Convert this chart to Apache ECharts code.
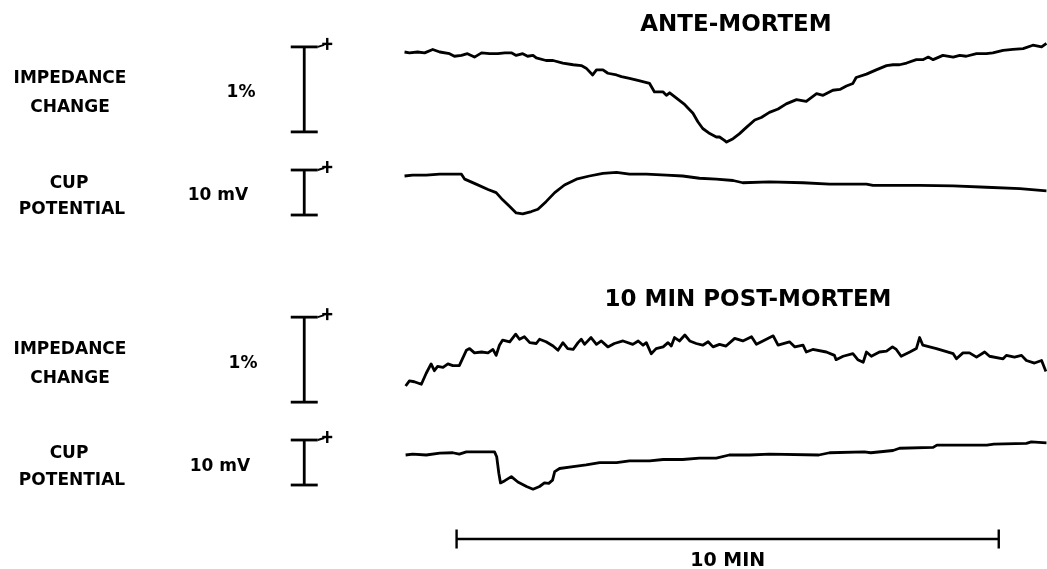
<!DOCTYPE html>
<html>
<head>
<meta charset="utf-8">
<title>Impedance change and cup potential, ante- and post-mortem</title>
<script src="https://cdn.jsdelivr.net/npm/echarts@6/dist/echarts.min.js"></script>
<style>
  html, body { margin: 0; padding: 0; background: #fff; }
  #chart { width: 1047px; height: 569px; }
</style>
</head>
<body>
<div id="chart"></div>
<script>
// ---- Recorded traces: [time (min), value] ----
// Impedance change in %, cup potential in mV, both relative to the start of the trace.
const anteImpedance = [
  [0.00, 0.00], [0.09, -0.01], [0.24, 0.00], [0.37, -0.01], [0.52, 0.03], [0.65, 0.00],
  [0.83, -0.02], [0.92, -0.05], [1.05, -0.04], [1.16, -0.02], [1.29, -0.06], [1.42, -0.01],
  [1.57, -0.02], [1.72, -0.02], [1.85, -0.01], [1.97, -0.01], [2.06, -0.04], [2.18, -0.02],
  [2.27, -0.05], [2.37, -0.04], [2.43, -0.07], [2.61, -0.10], [2.74, -0.10], [2.92, -0.13],
  [3.11, -0.15], [3.26, -0.16], [3.35, -0.19], [3.47, -0.27], [3.54, -0.21], [3.66, -0.21],
  [3.75, -0.25], [3.91, -0.27], [4.00, -0.29], [4.15, -0.31], [4.34, -0.34], [4.52, -0.37],
  [4.61, -0.47], [4.77, -0.47], [4.83, -0.51], [4.89, -0.48], [5.01, -0.54], [5.17, -0.62],
  [5.32, -0.72], [5.41, -0.82], [5.50, -0.90], [5.63, -0.96], [5.75, -1.00], [5.81, -1.00],
  [5.90, -1.04], [5.94, -1.06], [6.06, -1.02], [6.18, -0.96], [6.30, -0.89], [6.46, -0.80],
  [6.58, -0.77], [6.73, -0.71], [6.89, -0.67], [7.04, -0.61], [7.23, -0.56], [7.41, -0.58],
  [7.60, -0.49], [7.72, -0.51], [7.90, -0.45], [8.03, -0.44], [8.15, -0.40], [8.27, -0.37],
  [8.33, -0.30], [8.52, -0.26], [8.70, -0.21], [8.89, -0.16], [9.01, -0.15], [9.13, -0.15],
  [9.26, -0.13], [9.44, -0.09], [9.56, -0.09], [9.66, -0.06], [9.75, -0.09], [9.93, -0.04],
  [10.12, -0.06], [10.24, -0.04], [10.36, -0.05], [10.55, -0.02], [10.73, -0.02], [10.85, -0.01],
  [11.04, 0.02], [11.22, 0.03], [11.41, 0.04], [11.59, 0.08], [11.75, 0.06], [11.84, 0.10]
];

const anteCupPotential = [
  [0.00, 0.0], [0.15, 0.2], [0.40, 0.2], [0.65, 0.4], [0.89, 0.4], [1.05, 0.4],
  [1.11, -0.7], [1.32, -1.8], [1.54, -3.0], [1.69, -3.7], [1.81, -5.3], [1.94, -6.8],
  [2.06, -8.2], [2.18, -8.4], [2.34, -7.9], [2.46, -7.4], [2.61, -5.7], [2.77, -3.7],
  [2.95, -2.0], [3.17, -0.7], [3.41, 0.0], [3.66, 0.6], [3.91, 0.8], [4.15, 0.4],
  [4.46, 0.4], [4.83, 0.2], [5.13, 0.0], [5.44, -0.5], [5.75, -0.7], [6.06, -1.0],
  [6.24, -1.5], [6.73, -1.3], [7.35, -1.5], [7.84, -1.8], [8.52, -1.8], [8.64, -2.1],
  [9.50, -2.1], [10.12, -2.2], [10.73, -2.5], [11.35, -2.8], [11.84, -3.3]
];

const postImpedance = [
  [0.02, 0.00], [0.09, 0.06], [0.18, 0.05], [0.31, 0.02], [0.40, 0.15], [0.49, 0.26],
  [0.55, 0.18], [0.61, 0.23], [0.71, 0.22], [0.80, 0.26], [0.89, 0.24], [1.01, 0.24],
  [1.14, 0.42], [1.20, 0.44], [1.29, 0.39], [1.42, 0.40], [1.54, 0.39], [1.63, 0.43],
  [1.69, 0.36], [1.75, 0.48], [1.81, 0.54], [1.94, 0.52], [2.05, 0.61], [2.12, 0.55],
  [2.21, 0.58], [2.31, 0.51], [2.43, 0.50], [2.49, 0.55], [2.61, 0.52], [2.74, 0.47],
  [2.83, 0.42], [2.92, 0.51], [3.01, 0.44], [3.11, 0.43], [3.20, 0.51], [3.26, 0.55],
  [3.32, 0.49], [3.44, 0.57], [3.54, 0.49], [3.63, 0.53], [3.75, 0.46], [3.87, 0.50],
  [4.03, 0.53], [4.21, 0.49], [4.31, 0.53], [4.40, 0.48], [4.46, 0.51], [4.55, 0.38],
  [4.64, 0.44], [4.77, 0.46], [4.86, 0.51], [4.92, 0.47], [4.98, 0.57], [5.07, 0.53],
  [5.17, 0.60], [5.26, 0.53], [5.38, 0.50], [5.50, 0.48], [5.60, 0.52], [5.69, 0.46],
  [5.81, 0.49], [5.93, 0.47], [6.09, 0.56], [6.24, 0.53], [6.40, 0.58], [6.49, 0.49],
  [6.61, 0.53], [6.80, 0.59], [6.89, 0.48], [7.10, 0.52], [7.20, 0.46], [7.35, 0.48],
  [7.41, 0.40], [7.53, 0.43], [7.78, 0.40], [7.93, 0.36], [7.96, 0.31], [8.09, 0.35],
  [8.27, 0.38], [8.36, 0.31], [8.46, 0.28], [8.52, 0.40], [8.61, 0.35], [8.76, 0.40],
  [8.89, 0.41], [9.00, 0.46], [9.07, 0.43], [9.16, 0.35], [9.32, 0.40], [9.44, 0.44],
  [9.50, 0.57], [9.56, 0.48], [9.81, 0.44], [10.12, 0.38], [10.18, 0.32], [10.30, 0.39],
  [10.42, 0.39], [10.55, 0.34], [10.70, 0.40], [10.79, 0.35], [11.04, 0.32], [11.10, 0.36],
  [11.25, 0.34], [11.38, 0.36], [11.47, 0.30], [11.62, 0.27], [11.75, 0.30], [11.83, 0.17]
];

const postCupPotential = [
  [0.02, 0.0], [0.15, 0.2], [0.40, 0.0], [0.65, 0.4], [0.89, 0.5], [1.01, 0.2],
  [1.14, 0.7], [1.38, 0.7], [1.66, 0.7], [1.70, -0.4], [1.74, -4.1], [1.77, -6.2],
  [1.85, -5.7], [1.97, -4.8], [2.09, -6.0], [2.25, -7.0], [2.37, -7.6], [2.49, -7.0],
  [2.58, -6.2], [2.66, -6.3], [2.73, -5.6], [2.77, -3.7], [2.86, -3.0], [3.11, -2.6],
  [3.35, -2.2], [3.60, -1.7], [3.91, -1.7], [4.15, -1.3], [4.52, -1.3], [4.77, -1.0],
  [5.13, -1.0], [5.44, -0.7], [5.75, -0.7], [5.99, 0.0], [6.37, 0.0], [6.73, 0.2],
  [7.64, 0.0], [7.84, 0.5], [8.48, 0.7], [8.60, 0.5], [9.01, 1.0], [9.13, 1.5],
  [9.75, 1.7], [9.82, 2.2], [10.74, 2.2], [10.87, 2.4], [11.47, 2.6], [11.56, 2.9],
  [11.84, 2.7]
];

// ---- Calibration bars: [time (min), low, high] — 1 % and 10 mV ----
const anteImpCal = [[-1.85, -0.94, 0.06]];
const anteCupCal = [[-1.85, -8.67, 1.33]];
const postImpCal = [[-1.85, -0.19, 0.81]];
const postCupCal = [[-1.85, -6.67, 3.33]];

// ---- Time bar: [start, end] in minutes ----
const timeBar = [[0.96, 10.96]];
const timeBarLabel = '10 MIN';

// ---- Text ----
const titles = ['ANTE-MORTEM', '10 MIN POST-MORTEM'];
const traceNames = [['IMPEDANCE', 'CHANGE'], ['CUP', 'POTENTIAL']];
const calLabels = ['1%', '10 mV'];

// ---- Layout ----
const X_MIN = -2.5, X_MAX = 11.85, GRID_LEFT = 269;
const FONT = '"DejaVu Sans", "Liberation Sans", Arial, sans-serif';
const INK = '#000';

// A band whose value zero sits at zeroPx with pxPerUnit pixels per unit.
function band(zeroPx, pxPerUnit, min, max) {
  return {
    grid: { left: GRID_LEFT, right: 0, top: zeroPx - max * pxPerUnit, height: (max - min) * pxPerUnit },
    min: min, max: max
  };
}

const bands = [
  band(52, 85, -1.3, 0.2),    // ante-mortem impedance (%)
  band(176, 4.5, -10, 3),     // ante-mortem cup potential (mV)
  band(386, 85, -0.3, 0.85),  // post-mortem impedance (%)
  band(455, 4.5, -10, 4),     // post-mortem cup potential (mV)
  band(539, 20, -0.5, 0.5)    // time bar
];

const traces = [anteImpedance, anteCupPotential, postImpedance, postCupPotential];
const calBars = [anteImpCal, anteCupCal, postImpCal, postCupCal];

const LW = 2.8;

function calRenderItem(params, api) {
  const x = api.value(0);
  const lo = api.coord([x, api.value(1)]);
  const hi = api.coord([x, api.value(2)]);
  const half = 13.5;
  const s = { stroke: INK, lineWidth: LW, lineCap: 'butt' };
  const px = hi[0] + 23, py = hi[1] - 3;
  return {
    type: 'group',
    children: [
      { type: 'line', shape: { x1: lo[0], y1: lo[1], x2: hi[0], y2: hi[1] }, style: s },
      { type: 'line', shape: { x1: lo[0] - half, y1: lo[1], x2: lo[0] + half, y2: lo[1] }, style: s },
      { type: 'line', shape: { x1: hi[0] - half, y1: hi[1], x2: hi[0] + half, y2: hi[1] }, style: s },
      { type: 'line', shape: { x1: hi[0] + half, y1: hi[1], x2: px - 3, y2: py + 1 }, style: { stroke: INK, lineWidth: 2 } },
      { type: 'line', shape: { x1: px - 5, y1: py, x2: px + 5, y2: py }, style: { stroke: INK, lineWidth: 2.4 } },
      { type: 'line', shape: { x1: px, y1: py - 6, x2: px, y2: py + 6 }, style: { stroke: INK, lineWidth: 2.4 } }
    ]
  };
}

function timeBarRenderItem(params, api) {
  const a = api.coord([api.value(0), 0]);
  const b = api.coord([api.value(1), 0]);
  const s = { stroke: INK, lineWidth: 2.4 };
  return {
    type: 'group',
    children: [
      { type: 'line', shape: { x1: a[0], y1: a[1], x2: b[0], y2: b[1] }, style: s },
      { type: 'line', shape: { x1: a[0], y1: a[1] - 9.5, x2: a[0], y2: a[1] + 9.5 }, style: s },
      { type: 'line', shape: { x1: b[0], y1: b[1] - 9.5, x2: b[0], y2: b[1] + 9.5 }, style: s },
      { type: 'text', style: {
          text: timeBarLabel, x: (a[0] + b[0]) / 2, y: a[1] + 22,
          fill: INK, font: 'bold 19px ' + FONT,
          textAlign: 'center', textVerticalAlign: 'middle', align: 'center', verticalAlign: 'middle'
      } }
    ]
  };
}

const grids = bands.map(b => b.grid);
const xAxes = bands.map((b, i) => ({ type: 'value', gridIndex: i, min: X_MIN, max: X_MAX, show: false }));
const yAxes = bands.map((b, i) => ({ type: 'value', gridIndex: i, min: b.min, max: b.max, show: false }));

const series = [];
traces.forEach((data, i) => {
  series.push({
    type: 'line', xAxisIndex: i, yAxisIndex: i, data: data,
    showSymbol: false, symbol: 'none', smooth: false, clip: false,
    lineStyle: { color: INK, width: LW, join: 'round' },
    silent: true, animation: false
  });
  series.push({
    type: 'custom', xAxisIndex: i, yAxisIndex: i, data: calBars[i],
    renderItem: calRenderItem, clip: false, silent: true, animation: false
  });
});
series.push({
  type: 'custom', xAxisIndex: 4, yAxisIndex: 4, data: timeBar,
  renderItem: timeBarRenderItem, clip: false, silent: true, animation: false
});

function txt(text, x, y, size) {
  return {
    type: 'text', silent: true,
    style: {
      text: text, x: x, y: y, fill: INK, font: 'bold ' + size + 'px ' + FONT,
      textAlign: 'center', textVerticalAlign: 'middle', align: 'center', verticalAlign: 'middle'
    }
  };
}

// Row text positions (centre points)
const graphicEls = [
  txt(titles[0], 736, 25, 23),
  txt(titles[1], 748, 300, 23),

  txt(traceNames[0][0], 70, 79, 17), txt(traceNames[0][1], 70, 108, 17),
  txt(calLabels[0], 241, 93, 17),
  txt(traceNames[1][0], 69, 184, 17), txt(traceNames[1][1], 72, 210, 17),
  txt(calLabels[1], 218, 196, 17),

  txt(traceNames[0][0], 70, 350, 17), txt(traceNames[0][1], 70, 379, 17),
  txt(calLabels[0], 243, 364, 17),
  txt(traceNames[1][0], 69, 454, 17), txt(traceNames[1][1], 72, 481, 17),
  txt(calLabels[1], 220, 467, 17)
];

const chart = echarts.init(document.getElementById('chart'), null, { renderer: 'canvas' });
chart.setOption({
  backgroundColor: '#fff',
  animation: false,
  grid: grids,
  xAxis: xAxes,
  yAxis: yAxes,
  series: series,
  graphic: { elements: graphicEls }
});
</script>
</body>
</html>
